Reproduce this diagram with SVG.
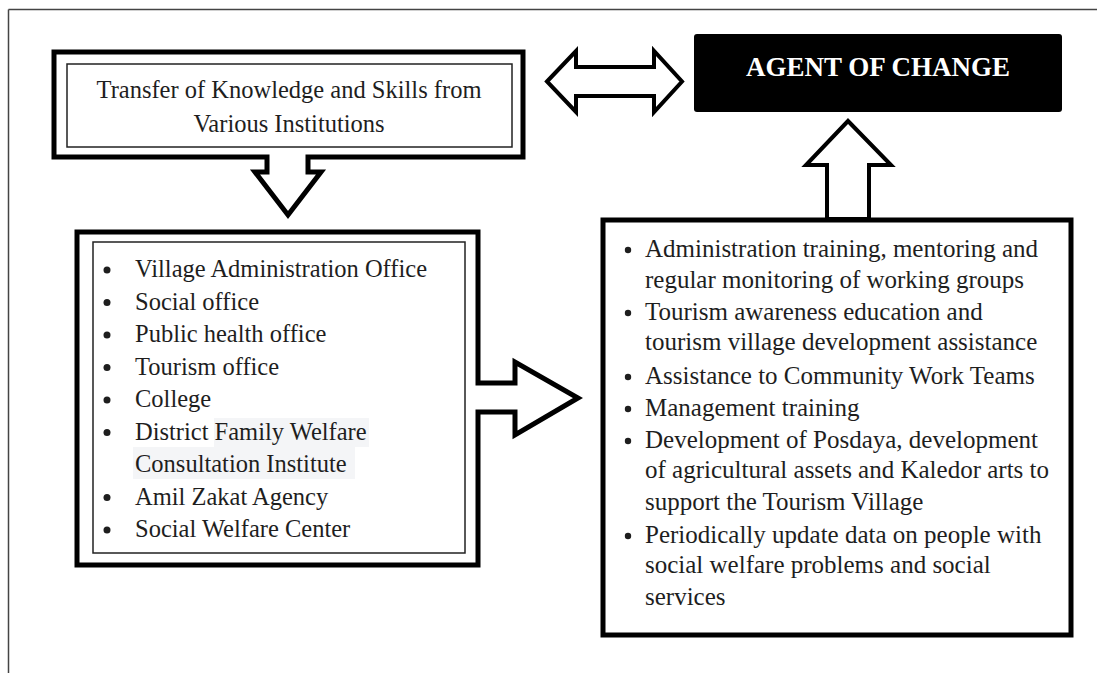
<svg xmlns="http://www.w3.org/2000/svg" width="1097" height="673" viewBox="0 0 1097 673">
<style>
.frame{stroke:#444;stroke-width:1.5;fill:none}
.thick{fill:#fff;stroke:#000;stroke-width:5;stroke-linejoin:miter}
.thin{fill:none;stroke:#222;stroke-width:1.5}
.arrow{fill:#fff;stroke:#000;stroke-width:4;stroke-linejoin:miter}
.t{font-family:"Liberation Serif","Times New Roman",serif;font-size:25px;fill:#1e1e1e}
.s{font-size:24.5px}
.c{text-anchor:middle}
.b{fill:#1e1e1e}
.hl{fill:#f4f5f7}
</style>
<rect width="1097" height="673" fill="#fff"/>
<g id="frame">
<line class="frame" x1="8.5" y1="9.5" x2="1097" y2="9.5"/>
<line class="frame" x1="8.5" y1="9.5" x2="8.5" y2="673"/>
</g>
<g id="connectors">
<path class="arrow" d="M547,81.5 L576,51 V67 H654 V51 L682,81.5 L654,112 V96 H576 V112 Z"/>
<path class="arrow" d="M827,219 V165 H806 L848,121 L891,165 H869 V219 Z"/>
</g>
<g id="transfer">
<path class="thick" d="M54,52 H523 V157 H308 V172 H321 L288,215 L255,172 H267 V157 H54 Z"/>
<rect class="thin" x="67" y="64" width="445" height="83"/>
<text class="t s c" x="289" y="98">Transfer of Knowledge and Skills from</text>
<text class="t s c" x="289" y="132">Various Institutions</text>
</g>
<g id="agent">
<rect x="694" y="34" width="368" height="78" rx="3" fill="#000"/>
<text x="878" y="76" text-anchor="middle" font-family="Liberation Serif, Times New Roman, serif" font-size="27" font-weight="bold" fill="#fff">AGENT OF CHANGE</text>
</g>
<g id="institutions">
<path class="thick" d="M77,232 H478 V383 H515 V362 L578,398 L515,435 V412 H478 V565 H77 Z"/>
<rect class="thin" x="93" y="242" width="372" height="311"/>
<rect class="hl" x="214" y="418" width="155" height="29"/>
<rect class="hl" x="133" y="447" width="222" height="32"/>
<g class="b">
<circle cx="107" cy="270" r="3.5"/>
<circle cx="107" cy="302.5" r="3.5"/>
<circle cx="107" cy="335" r="3.5"/>
<circle cx="107" cy="367.5" r="3.5"/>
<circle cx="107" cy="400" r="3.5"/>
<circle cx="107" cy="432.5" r="3.5"/>
<circle cx="107" cy="497.5" r="3.5"/>
<circle cx="107" cy="530" r="3.5"/>
</g>
<text class="t s" x="135" y="277">Village Administration Office</text>
<text class="t s" x="135" y="309.5">Social office</text>
<text class="t s" x="135" y="342">Public health office</text>
<text class="t s" x="135" y="374.5">Tourism office</text>
<text class="t s" x="135" y="407">College</text>
<text class="t s" x="135" y="439.5">District Family Welfare</text>
<text class="t s" x="135" y="472">Consultation Institute</text>
<text class="t s" x="135" y="504.5">Amil Zakat Agency</text>
<text class="t s" x="135" y="537">Social Welfare Center</text>
</g>
<g id="activities">
<rect class="thick" x="603" y="220" width="468" height="415"/>
<g class="b">
<circle cx="628" cy="250" r="3.2"/>
<circle cx="628" cy="313" r="3.2"/>
<circle cx="628" cy="377" r="3.2"/>
<circle cx="628" cy="409" r="3.2"/>
<circle cx="628" cy="441" r="3.2"/>
<circle cx="628" cy="536" r="3.2"/>
</g>
<text class="t" x="645" y="257">Administration training, mentoring and</text>
<text class="t" x="645" y="288">regular monitoring of working groups</text>
<text class="t" x="645" y="320">Tourism awareness education and</text>
<text class="t" x="645" y="350">tourism village development assistance</text>
<text class="t" x="645" y="384">Assistance to Community Work Teams</text>
<text class="t" x="645" y="416">Management training</text>
<text class="t" x="645" y="448">Development of Posdaya, development</text>
<text class="t" x="645" y="478">of agricultural assets and Kaledor arts to</text>
<text class="t" x="645" y="510">support the Tourism Village</text>
<text class="t" x="645" y="543">Periodically update data on people with</text>
<text class="t" x="645" y="573">social welfare problems and social</text>
<text class="t" x="645" y="605">services</text>
</g>
</svg>
